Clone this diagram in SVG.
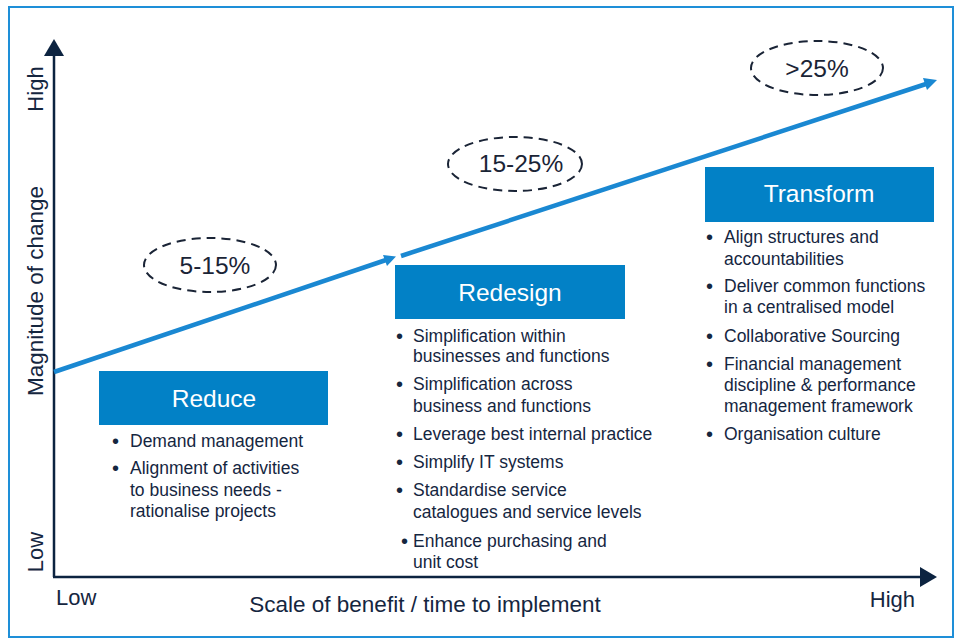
<svg xmlns="http://www.w3.org/2000/svg" width="961" height="639" viewBox="0 0 961 639">
<defs>
<style>
text{font-family:"Liberation Sans",Arial,Helvetica,sans-serif;fill:#15263f}
.b{font-size:17.5px}
.d{font-size:20px}
.ax{font-size:22px}
.ax2{font-size:22.5px}
.t{font-size:24.5px;fill:#fff;text-anchor:middle}
.p{font-size:24.5px;text-anchor:middle;fill:#1a2436}
.box{fill:#0281c6}
.ell{fill:none;stroke:#1a2436;stroke-width:2;stroke-dasharray:9 6}
.blue{stroke:#1a88d2;stroke-width:4.5;fill:none}
</style>
</defs>
<rect x="9" y="7" width="944" height="630" fill="#fff" stroke="#1e8fd8" stroke-width="2"/>
<g id="axes">
<line x1="54" y1="577" x2="54" y2="54" stroke="#0c2340" stroke-width="2.5"/>
<polygon points="54,39 44,56 64,56" fill="#0c2340"/>
<line x1="53" y1="577" x2="922" y2="577" stroke="#0c2340" stroke-width="2.5"/>
<polygon points="937,577 920,567 920,587" fill="#0c2340"/>
<text class="ax" transform="translate(43,89) rotate(-90)" text-anchor="middle">High</text>
<text class="ax2" transform="translate(43,291) rotate(-90)" text-anchor="middle">Magnitude of change</text>
<text class="ax" transform="translate(43,552) rotate(-90)" text-anchor="middle">Low</text>
<text class="ax" x="56" y="605">Low</text>
<text class="ax" x="915" y="607" text-anchor="end">High</text>
<text class="ax2" x="425" y="612" text-anchor="middle">Scale of benefit / time to implement</text>
</g>
<g id="connectors">
<line class="blue" x1="54" y1="372" x2="386" y2="260"/>
<polygon points="396,256.5 383,255 387,266" fill="#1a88d2"/>
<line class="blue" x1="401" y1="256" x2="926" y2="84"/>
<polygon points="937,80 923,78 927,90" fill="#1a88d2"/>
</g>
<g id="p1">
<ellipse class="ell" cx="210" cy="265" rx="66" ry="27"/>
<text class="p" x="215" y="274">5-15%</text>
</g>
<g id="p2">
<ellipse class="ell" cx="515" cy="164" rx="67" ry="27"/>
<text class="p" x="521" y="172">15-25%</text>
</g>
<g id="p3">
<ellipse class="ell" cx="817" cy="68" rx="66" ry="27"/>
<text class="p" x="817" y="77">&gt;25%</text>
</g>
<g id="reduce">
<rect class="box" x="99" y="371" width="229" height="54"/>
<text class="t" x="214" y="407">Reduce</text>
<text class="d" x="112" y="448">•</text><text class="b" x="130" y="447">Demand management</text>
<text class="d" x="112" y="475">•</text><text class="b" x="130" y="474">Alignment of activities</text>
<text class="b" x="130" y="496">to business needs -</text>
<text class="b" x="130" y="517">rationalise projects</text>
</g>
<g id="redesign">
<rect class="box" x="395" y="265" width="230" height="54"/>
<text class="t" x="510" y="301">Redesign</text>
<text class="d" x="396" y="343">•</text><text class="b" x="413" y="342">Simplification within</text>
<text class="b" x="413" y="362">businesses and functions</text>
<text class="d" x="396" y="391">•</text><text class="b" x="413" y="390">Simplification across</text>
<text class="b" x="413" y="412">business and functions</text>
<text class="d" x="396" y="441">•</text><text class="b" x="413" y="440">Leverage best internal practice</text>
<text class="d" x="396" y="469">•</text><text class="b" x="413" y="468">Simplify IT systems</text>
<text class="d" x="396" y="497">•</text><text class="b" x="413" y="496">Standardise service</text>
<text class="b" x="413" y="518">catalogues and service levels</text>
<text class="d" x="401" y="548">•</text><text class="b" x="413" y="547">Enhance purchasing and</text>
<text class="b" x="413" y="568">unit cost</text>
</g>
<g id="transform">
<rect class="box" x="705" y="167" width="229" height="55"/>
<text class="t" x="819" y="202">Transform</text>
<text class="d" x="706" y="244">•</text><text class="b" x="724" y="243">Align structures and</text>
<text class="b" x="724" y="265">accountabilities</text>
<text class="d" x="706" y="293">•</text><text class="b" x="724" y="292">Deliver common functions</text>
<text class="b" x="724" y="313">in a centralised model</text>
<text class="d" x="706" y="343">•</text><text class="b" x="724" y="342">Collaborative Sourcing</text>
<text class="d" x="706" y="371">•</text><text class="b" x="724" y="370">Financial management</text>
<text class="b" x="724" y="391">discipline &amp; performance</text>
<text class="b" x="724" y="412">management framework</text>
<text class="d" x="706" y="441">•</text><text class="b" x="724" y="440">Organisation culture</text>
</g>
</svg>
